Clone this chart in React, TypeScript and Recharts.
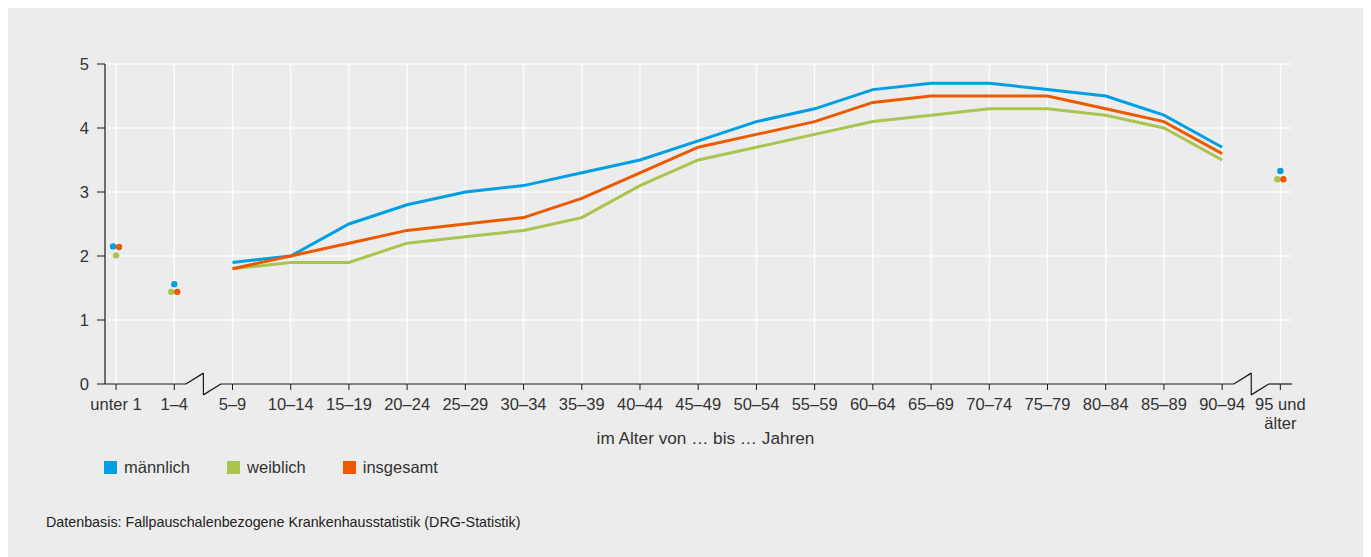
import { LineChart, Line, XAxis, YAxis, CartesianGrid, ReferenceLine } from "recharts";

// Altersgruppen (X-Achse)
const categories = [
  "unter 1", "1–4", "5–9", "10–14", "15–19", "20–24", "25–29", "30–34", "35–39", "40–44",
  "45–49", "50–54", "55–59", "60–64", "65–69", "70–74", "75–79", "80–84", "85–89", "90–94",
  "95 und älter",
];

// Werte je Geschlecht
const maennlich = [2.15, 1.56, 1.9, 2.0, 2.5, 2.8, 3.0, 3.1, 3.3, 3.5, 3.8, 4.1, 4.3, 4.6, 4.7, 4.7, 4.6, 4.5, 4.2, 3.7, 3.33];
const weiblich = [2.01, 1.44, 1.8, 1.9, 1.9, 2.2, 2.3, 2.4, 2.6, 3.1, 3.5, 3.7, 3.9, 4.1, 4.2, 4.3, 4.3, 4.2, 4.0, 3.5, 3.2];
const insgesamt = [2.14, 1.44, 1.8, 2.0, 2.2, 2.4, 2.5, 2.6, 2.9, 3.3, 3.7, 3.9, 4.1, 4.4, 4.5, 4.5, 4.5, 4.3, 4.1, 3.6, 3.2];

// Gruppen jenseits des Achsenbruchs: nur als Punkte
const separateIdx = [0, 1, 20];
const yTicks = [0, 1, 2, 3, 4, 5];

const SERIES = [
  { key: "m", name: "männlich", color: "#009fe3", values: maennlich },
  { key: "w", name: "weiblich", color: "#a9c550", values: weiblich },
  { key: "g", name: "insgesamt", color: "#ec5a00", values: insgesamt },
];

const FONT = '"Liberation Sans", Arial, Helvetica, sans-serif';
const TEXT = "#333333";
const AXIS = "#1a1a1a";

const rows = categories.map((cat, i) => {
  const sep = separateIdx.includes(i);
  const row: Record<string, any> = { i, cat };
  SERIES.forEach((s) => {
    row[s.key] = sep ? null : s.values[i];
    row[s.key + "Pt"] = sep ? s.values[i] : null;
  });
  return row;
});

// gleich hohe Punkte leicht auseinanderrücken
function dotShift(seriesIdx: number, i: number) {
  const v = SERIES[seriesIdx].values[i];
  const group = SERIES.map((_, k) => k).filter((k) => Math.abs(SERIES[k].values[i] - v) < 0.03);
  if (group.length < 2) return 0;
  return (group.indexOf(seriesIdx) - (group.length - 1) / 2) * 6;
}

function wrap(label: string, max: number) {
  const out: string[] = [];
  label.split(" ").forEach((w) => {
    const last = out[out.length - 1];
    if (last !== undefined && (last + " " + w).length <= max) out[out.length - 1] = last + " " + w;
    else out.push(w);
  });
  return out;
}

function AgeTick(props: any) {
  const { x, y, payload } = props;
  const lines = wrap(categories[payload.value] ?? "", 7);
  return (
    <text x={x} y={y} textAnchor="middle" fill={TEXT} fontSize={16.5}>
      {lines.map((l, k) => (
        <tspan key={k} x={x} dy={k === 0 ? 18 : 19}>{l}</tspan>
      ))}
    </text>
  );
}

// Achsenbrüche zwischen 1–4 / 5–9 und 90–94 / 95+
const breaks = [1.5, 19.5];
const half = 0.3;
const zig = 0.17;
const xMin = -0.19;
const xMax = 20.2;

function axisSegments() {
  const segs: { x: number; y: number }[][] = [];
  let start = xMin;
  breaks.forEach((b) => {
    segs.push([{ x: start, y: 0 }, { x: b - half, y: 0 }]);
    segs.push([{ x: b - half, y: 0 }, { x: b, y: zig }]);
    segs.push([{ x: b, y: zig }, { x: b, y: -zig }]);
    segs.push([{ x: b, y: -zig }, { x: b + half, y: 0 }]);
    start = b + half;
  });
  segs.push([{ x: start, y: 0 }, { x: xMax, y: 0 }]);
  return segs;
}

export default function App() {
  return (
    <div style={{ position: "relative", width: 1363, height: 550, marginTop: -1, background: "#ececec", fontFamily: FONT }}>
      <LineChart width={1363} height={450} data={rows} margin={{ top: 57, right: 79, bottom: 0, left: 0 }}>
        <CartesianGrid vertical={false} horizontalValues={[1, 2, 3, 4, 5]} stroke="#ffffff" strokeDasharray="2 2" strokeWidth={1.8} />
        <CartesianGrid horizontal={false} verticalValues={categories.map((_, i) => i)} stroke="#ffffff" strokeWidth={1.2} />
        <XAxis
          dataKey="i"
          type="number"
          domain={[xMin, xMax]}
          ticks={categories.map((_, i) => i)}
          interval={0}
          allowDataOverflow
          axisLine={false}
          tickLine={{ stroke: AXIS }}
          tickSize={6}
          tickMargin={2}
          height={73}
          tick={<AgeTick />}
          label={(p: any) => {
            const vb = p.viewBox || { x: 97, y: 377, width: 1187 };
            return (
              <text x={vb.x + vb.width / 2 + 7} y={vb.y + 60} textAnchor="middle" fill={TEXT} fontSize={17.2}>
                im Alter von … bis … Jahren
              </text>
            );
          }}
        />
        <YAxis
          width={97}
          domain={[0, 5]}
          ticks={yTicks}
          interval={0}
          axisLine={{ stroke: AXIS, strokeWidth: 1.2 }}
          tickLine={{ stroke: AXIS }}
          tickSize={8}
          tickMargin={8}
          tick={{ fill: TEXT, fontSize: 16.5 }}
        />
        {axisSegments().map((seg, k) => (
          <ReferenceLine key={"ax" + k} segment={seg} ifOverflow="visible" stroke={AXIS} strokeWidth={1.2} />
        ))}
        {SERIES.map((s) => (
          <Line
            key={s.key}
            dataKey={s.key}
            type="linear"
            stroke={s.color}
            strokeWidth={3}
            dot={false}
            activeDot={false}
            isAnimationActive={false}
          />
        ))}
        {SERIES.map((s, si) => (
          <Line
            key={s.key + "Pt"}
            dataKey={s.key + "Pt"}
            stroke="none"
            activeDot={false}
            isAnimationActive={false}
            dot={(p: any) => {
              if (p.cx == null || p.cy == null || p.value == null) return <g key={"d" + si + "-" + p.index} />;
              return (
                <circle key={"d" + si + "-" + p.index} cx={p.cx + dotShift(si, p.index)} cy={p.cy} r={3.2} fill={s.color} />
              );
            }}
          />
        ))}
      </LineChart>

      <div style={{ position: "absolute", left: 96, top: 451, display: "flex", gap: 37, fontSize: 16.5, color: TEXT }}>
        {SERIES.map((s) => (
          <div key={s.key} style={{ display: "flex", alignItems: "center" }}>
            <span style={{ width: 13, height: 13, background: s.color, display: "inline-block", marginRight: 7 }} />
            <span>{s.name}</span>
          </div>
        ))}
      </div>

      <div style={{ position: "absolute", left: 38, top: 507, fontSize: 14.3, color: "#222" }}>
        Datenbasis: Fallpauschalenbezogene Krankenhausstatistik (DRG-Statistik)
      </div>
    </div>
  );
}
